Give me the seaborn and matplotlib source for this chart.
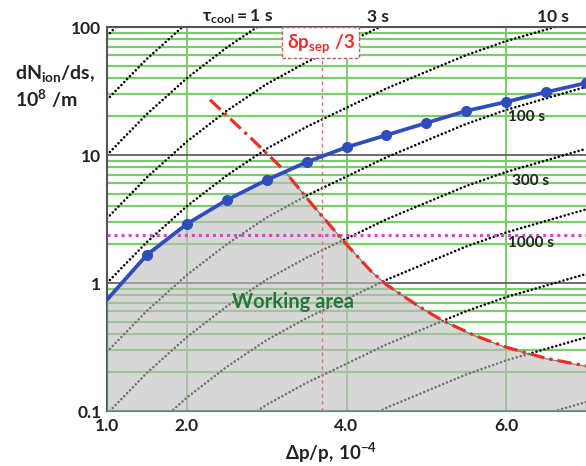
import numpy as np
import pandas as pd
import matplotlib
matplotlib.use("Agg")
import matplotlib.pyplot as plt
import matplotlib.patches as patches
from matplotlib.ticker import LogLocator, NullFormatter, FixedLocator
import seaborn as sns

# Momentum spread (1e-4) and the ion line-density limit (1e8 /m), blue curve
limit_dpp = [1.0, 1.5, 2.0, 2.5, 3.0, 3.5, 4.0, 4.5, 5.0, 5.5, 6.0, 6.5, 7.0]
limit_density = [0.74, 1.66, 2.89, 4.45, 6.38, 8.8, 11.5, 14.3, 17.8, 22.1, 26.0, 31.0, 36.5]

# Upper bound set by the separatrix, red dash-dot curve
sep_dpp = [2.29, 2.8, 3.2, 3.6, 4.0, 4.3, 4.5, 4.7, 4.9, 5.2, 5.6, 6.0, 6.5, 7.0]
sep_density = [27.0, 13.6, 7.8, 3.9, 2.0, 1.25, 0.97, 0.80, 0.66, 0.51, 0.39, 0.315, 0.258, 0.225]

# Curves of constant cooling time: common growth profile along dp/p,
# and the density each curve starts from at dp/p = 1.0
cool_dpp = [1.0, 1.5, 2.0, 2.5, 3.0, 3.5, 4.0, 4.5, 5.0, 5.5, 6.0, 6.5, 7.0]
cool_growth = [1.0, 2.09, 3.98, 6.92, 11.2, 16.6, 23.4, 33.1, 44.7, 60.3, 77.6, 95.5, 117.5]
cool_start = [85, 27, 10, 3.2, 1.0, 0.29, 0.095, 0.032, 0.010, 0.0032, 0.0010]

# Reference levels
ibs_density = 2.37      # horizontal magenta dotted line
sep_third_dpp = 3.69    # vertical pink dotted line (delta p_sep / 3)

# Ticks
x_ticks = [1.0, 2.0, 4.0, 6.0]
x_ticklabels = ["1.0", "2.0", "4.0", "6.0"]
y_ticks = [0.1, 1, 10, 100]
y_ticklabels = ["0.1", "1", "10", "100"]

# Cooling-time annotations
top_labels = [r"$\mathrm{\tau_{cool}=1\ s}$", "3 s", "10 s"]
top_label_x = [2.64, 4.39, 6.58]
side_labels = ["100 s", "300 s", "1000 s"]
side_label_xy = [(6.25, 19.8), (6.30, 6.27), (6.31, 2.05)]

GREEN = "#7ccb6c"
BLUE = "#2f4dbd"
RED = "#ec2e2a"
MAGENTA = "#e03ee0"
FRAME = "#555555"

sns.set_theme(style="white")
plt.rcParams["font.family"] = ["Lato", "DejaVu Sans"]
plt.rcParams["font.weight"] = "bold"
plt.rcParams["mathtext.fontset"] = "custom"
plt.rcParams["mathtext.rm"] = "Lato:bold"
plt.rcParams["mathtext.it"] = "Lato:bold"
plt.rcParams["mathtext.bf"] = "Lato:bold"
plt.rcParams["mathtext.sf"] = "Lato:bold"
plt.rcParams["mathtext.fallback"] = "stixsans"

W, H = 586, 466
fig = plt.figure(figsize=(W / 100, H / 100), dpi=100)
ax = fig.add_axes([107 / W, 55 / H, 479 / W, 384 / H])

ax.set_yscale("log")
ax.set_xlim(1.0, 7.0)
ax.set_ylim(0.1, 100)

# constant cooling-time curves
rows = []
for k, start in enumerate(cool_start):
    for xv, g in zip(cool_dpp, cool_growth):
        rows.append({"dpp": xv, "density": start * g, "curve": k})
cool_df = pd.DataFrame(rows)
for k, sub in cool_df.groupby("curve"):
    sns.lineplot(data=sub, x="dpp", y="density", ax=ax, color="black",
                 lw=1.9, linestyle=(0, (0.01, 1.55)), dash_capstyle="round",
                 estimator=None, sort=False, legend=False, zorder=2)

# working area below both limits
xg = np.linspace(1.0, 7.0, 400)
blue_top = 10 ** np.interp(xg, limit_dpp, np.log10(limit_density))
red_top = np.where(xg >= sep_dpp[0],
                   10 ** np.interp(xg, sep_dpp, np.log10(sep_density)), np.inf)
ax.fill_between(xg, 0.1, np.minimum(blue_top, red_top),
                facecolor=(0.74, 0.74, 0.74, 0.6), edgecolor="#4d8a78",
                lw=0.8, zorder=3)

# reference lines
ax.axhline(ibs_density, color=MAGENTA, lw=2.2, linestyle=(0, (1, 1.3)), zorder=4)
box_x0, box_x1, box_y0 = 3.19, 4.16, 57
ax.vlines(sep_third_dpp, 0.1, box_y0, color="#e8697a", lw=1.0,
          linestyles=(0, (2.5, 2.5)), zorder=4)

# separatrix limit and ion density limit
sns.lineplot(x=sep_dpp, y=sep_density, ax=ax, color=RED, lw=2.3,
             linestyle=(0, (4.5, 1.6, 1, 1.6)), estimator=None, sort=False, zorder=5)
sns.lineplot(x=limit_dpp, y=limit_density, ax=ax, color=BLUE, lw=2.7,
             marker="o", markersize=8, markeredgewidth=0,
             markevery=list(range(1, len(limit_dpp))),
             estimator=None, sort=False, zorder=6)

# axes, ticks and grid: green minor decades, dark major decades, green verticals
ax.set_xlabel("")
ax.set_ylabel("")
ax.yaxis.set_major_locator(FixedLocator(y_ticks))
ax.yaxis.set_minor_locator(LogLocator(base=10, subs=range(2, 10)))
ax.yaxis.set_minor_formatter(NullFormatter())
ax.set_yticks(y_ticks)
ax.set_yticklabels(y_ticklabels)
ax.set_xticks(x_ticks)
ax.set_xticklabels(x_ticklabels)
ax.set_xlim(1.0, 7.0)
ax.set_ylim(0.1, 100)
ax.set_axisbelow(True)
ax.grid(True, which="minor", axis="y", color=GREEN, lw=1.6)
ax.grid(True, which="major", axis="y", color=FRAME, lw=1.2)
ax.grid(True, which="major", axis="x", color=GREEN, lw=1.4)
ax.tick_params(which="both", length=0)
ax.tick_params(axis="y", pad=4, labelsize=12.5)
ax.tick_params(axis="x", pad=5, labelsize=12.5)
for lab in ax.get_xticklabels() + ax.get_yticklabels():
    lab.set_fontweight("bold")
    lab.set_color("#222222")

for side in ("left", "top", "bottom"):
    ax.spines[side].set_color(FRAME)
    ax.spines[side].set_linewidth(1.5)
ax.spines["right"].set_visible(False)

# delta p_sep / 3 box
box = patches.Rectangle((box_x0, box_y0), box_x1 - box_x0, 100 - box_y0,
                        facecolor="white", edgecolor="#cc5a5a", lw=1.0,
                        linestyle=(0, (2.5, 1.5)), zorder=7, clip_on=False)
ax.add_patch(box)
ax.text((box_x0 + box_x1) / 2, 74, r"$\mathrm{\delta p_{sep}\ /3}$", color=RED,
        fontsize=13.5, ha="center", va="center", zorder=8)

ax.text(3.33, 0.71, "Working area", color="#1f7a34", fontsize=14.5,
        fontweight="bold", ha="center", va="center", zorder=8)

for txt, xv in zip(top_labels, top_label_x):
    ax.text(xv, 1.027, txt, transform=ax.get_xaxis_transform(), ha="center",
            va="center", fontsize=12.5, fontweight="bold", color="#222222")
for txt, (xv, yv) in zip(side_labels, side_label_xy):
    ax.text(xv, yv, txt, ha="center", va="center", fontsize=11,
            fontweight="bold", color="#222222", zorder=8)

# axis titles
fig.text(15 / W, 1 - 74 / H, r"$\mathrm{dN_{ion}/ds,}$", ha="left", va="center",
         fontsize=14, color="#222222")
fig.text(15 / W, 1 - 99 / H, r"$\mathrm{10^{8}\ /m}$", ha="left", va="center",
         fontsize=14, color="#222222")
fig.text(331 / W, 1 - 453 / H, r"$\mathrm{\Delta p/p,\,10^{-4}}$", ha="center",
         va="center", fontsize=13.5, color="#222222")

fig.savefig("out.png", dpi=100, facecolor="white")
